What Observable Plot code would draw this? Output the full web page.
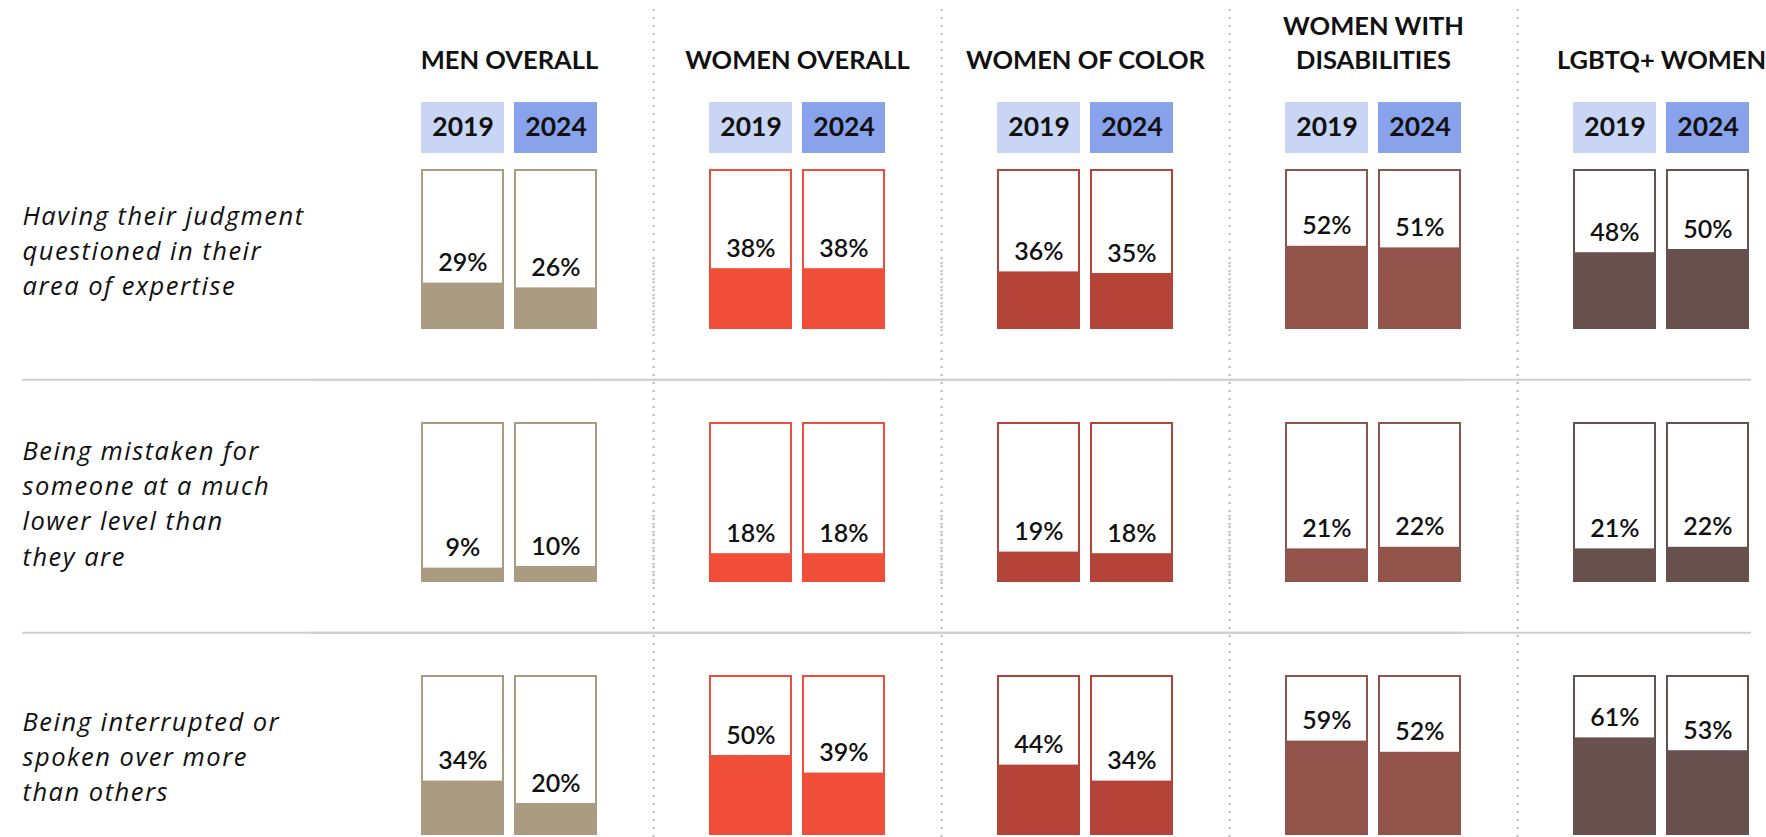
<!DOCTYPE html>
<html><head><meta charset="utf-8">
<script src="https://cdn.jsdelivr.net/npm/d3@7"></script>
<script src="https://cdn.jsdelivr.net/npm/@observablehq/plot@0.6"></script>
<style>
html,body{margin:0;padding:0;background:#fff;}
#chart svg{display:block;}
#chart svg g[aria-label="fy-axis tick label"]{letter-spacing:1.5px;}
</style></head><body><div id="chart"></div>
<script>
// ---- data ----
const groups = ["MEN OVERALL", "WOMEN OVERALL", "WOMEN OF COLOR", "WOMEN WITH\nDISABILITIES", "LGBTQ+ WOMEN"];
const years = ["2019", "2024"];
const rows = [
  "Having their judgment\nquestioned in their\narea of expertise",
  "Being mistaken for\nsomeone at a much\nlower level than\nthey are",
  "Being interrupted or\nspoken over more\nthan others"
];
const values2019 = [
  [29, 38, 36, 52, 48],
  [9, 18, 19, 21, 21],
  [34, 50, 44, 59, 61]
];
const values2024 = [
  [26, 38, 35, 51, 50],
  [10, 18, 18, 22, 22],
  [20, 39, 34, 52, 53]
];
const groupColors = ["#AB9B81", "#F04E39", "#B34437", "#92534B", "#68504F"];
const yearColors = ["#C8D5F4", "#88A3EB"];

const data = [];
rows.forEach((r, i) => groups.forEach((g, j) => {
  data.push({row: r, group: g, year: years[0], value: values2019[i][j], color: groupColors[j]});
  data.push({row: r, group: g, year: years[1], value: values2024[i][j], color: groupColors[j]});
}));
const yearData = groups.flatMap(g => years.map((y, k) => ({row: rows[0], group: g, year: y, fill: yearColors[k]})));

// ---- layout ----
const W = 1766, H = 837;
const mL = 421, mR = 17, mT = 168, mB = 2;
const fxPad = 0.3905, fyPad = 0.3688;
const fxStep = (W - mL - mR) / (groups.length - fxPad);
const fyStep = (H - mT - mB) / (rows.length - fyPad);
const FONT = "Lato, 'Open Sans', sans-serif";

const chart = Plot.plot({
  width: W, height: H,
  marginLeft: mL, marginRight: mR, marginTop: mT, marginBottom: mB,
  style: {fontFamily: FONT, background: "#fff", overflow: "visible", color: "#111"},
  fx: {domain: groups, paddingInner: fxPad, paddingOuter: 0, label: null},
  fy: {domain: rows, paddingInner: fyPad, paddingOuter: 0, label: null},
  x: {domain: years, paddingInner: 0.11, paddingOuter: 0, axis: null},
  y: {domain: [0, 100], axis: null},
  color: {type: "identity"},
  marks: [
    Plot.gridFx({ticks: groups.slice(0, -1), dx: fxStep / 2, stroke: "#b5b5b5", strokeOpacity: 1, strokeWidth: 2, strokeDasharray: "2,6", insetTop: -(mT - 8), insetBottom: -mB}),
    Plot.gridFy({ticks: rows.slice(1), dy: -fyStep / 2 + 4, stroke: "#cfcfcf", strokeOpacity: 1, strokeWidth: 2, insetLeft: -(mL - 22), insetRight: -2}),
    Plot.cell(data, {fx: "group", fy: "row", x: "year", fill: "white", stroke: "color", strokeWidth: 2, inset: 1}),
    Plot.barY(data, {fx: "group", fy: "row", x: "year", y: "value", fill: "color"}),
    Plot.text(data, {fx: "group", fy: "row", x: "year", y: "value", text: d => d.value + "%", lineAnchor: "bottom", dy: -12, fontSize: 25, fontWeight: 600, fill: "#111"}),
    Plot.cell(yearData, {fx: "group", fy: "row", x: "year", fill: "fill", insetTop: -67, insetBottom: 176}),
    Plot.text(yearData, {fx: "group", fy: "row", x: "year", text: "year", frameAnchor: "top", dy: -41.5, lineAnchor: "middle", fontSize: 26.5, fontWeight: "bold", fill: "#111"}),
    Plot.axisFx({anchor: "top", tickSize: 0, tickPadding: 0, lineAnchor: "bottom", dy: -101, fontSize: 25.5, fontWeight: "bold", lineHeight: 1.32, label: null}),
    Plot.axisFy({anchor: "left", tickSize: 0, tickPadding: 0, textAnchor: "start", dx: -(mL - 22), dy: -1, fontSize: 25.5, fontFamily: "'Open Sans', sans-serif", fontStyle: "italic", lineHeight: 1.38, label: null})
  ]
});
document.getElementById("chart").appendChild(chart);
</script>
</body></html>
